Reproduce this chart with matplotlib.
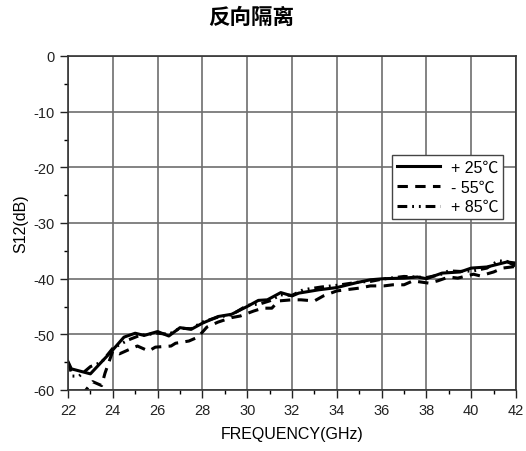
import matplotlib
matplotlib.use('Agg')
import matplotlib.pyplot as plt
from matplotlib.ticker import MultipleLocator

plt.rcParams['font.family'] = ['Liberation Sans', 'Noto Sans CJK SC', 'DejaVu Sans']

# +25 C (solid)
f25 = [22.0, 22.15, 23.0, 24.0, 24.5, 25.0, 25.4, 26.0, 26.5, 27.0, 27.5, 28.0, 28.7, 29.3,
       30.0, 30.5, 30.9, 31.5, 32.0, 32.3, 33.2, 34.0, 34.9, 35.5, 36.1, 37.0, 37.6, 38.0,
       38.7, 39.5, 40.0, 40.7, 41.6, 42.0]
s25 = [-54.9, -56.2, -57.1, -52.8, -50.5, -49.8, -50.2, -49.5, -50.3, -48.8, -49.1, -48.0, -46.8, -46.4,
       -45.0, -43.9, -43.8, -42.5, -43.1, -42.6, -42.0, -41.6, -40.7, -40.2, -40.0, -39.9, -39.7, -40.0,
       -39.0, -38.8, -38.1, -37.9, -37.0, -37.2]

# -55 C (dashed)
f55 = [22.6, 23.0, 23.1, 23.5, 23.65, 24.0, 24.3, 24.8, 25.1, 25.6, 25.9, 26.6, 26.8, 27.4, 27.8,
       28.2, 28.7, 29.3, 29.7, 30.3, 30.7, 31.1, 31.4, 32.0, 32.4, 33.0, 33.4, 34.0, 34.4, 35.0,
       35.5, 36.1, 36.5, 37.0, 37.4, 38.1, 38.5, 39.0, 39.4, 40.1, 40.4, 41.0, 41.4, 42.0]
s55 = [-61.0, -59.0, -58.5, -59.2, -57.0, -53.0, -53.5, -52.6, -52.1, -53.0, -52.3, -52.1, -51.6, -51.2, -50.5,
       -48.7, -47.8, -47.0, -46.7, -45.8, -45.3, -45.3, -44.0, -43.8, -43.8, -44.0, -43.1, -42.2, -42.0, -41.7,
       -41.3, -41.3, -41.1, -41.1, -40.4, -40.8, -40.4, -39.7, -39.9, -39.2, -39.5, -38.8, -38.1, -37.8]

# +85 C (dash-dot-dot)
f85 = [22.0, 22.2, 22.5, 23.0, 23.5, 24.0, 24.7, 25.2, 26.0, 26.5, 27.0, 27.5, 28.0, 28.7, 29.3,
       30.0, 30.6, 31.0, 31.5, 32.0, 32.5, 33.3, 34.0, 35.0, 35.5, 36.0, 37.0, 38.0, 38.6, 39.0,
       39.5, 40.1, 40.7, 41.2, 41.6, 42.0]
s85 = [-55.0, -57.5, -57.5, -55.8, -55.0, -52.5, -51.0, -50.2, -49.8, -50.0, -48.9, -49.0, -47.8, -46.9, -46.5,
       -44.8, -44.5, -44.0, -42.9, -43.0, -42.0, -41.5, -41.2, -40.6, -40.5, -40.1, -39.6, -39.8, -39.3, -38.6,
       -38.7, -38.6, -38.1, -36.8, -36.9, -37.8]

labels = ['+ 25\u2103', '- 55\u2103', '+ 85\u2103']

fig = plt.figure(figsize=(5.26, 4.52), dpi=100)
ax = fig.add_axes([68 / 526, 61 / 452, 448 / 526, 334 / 452])

ax.plot(f25, s25, color='black', lw=2.2, linestyle='-', label=labels[0])
ax.plot(f55, s55, color='black', lw=2.2, linestyle=(0, (3.4, 2.4)), label=labels[1])
ax.plot(f85, s85, color='black', lw=2.2, linestyle=(0, (3.2, 1.6, 0.6, 1.6, 0.6, 1.6)), label=labels[2])

ax.set_xlim(22, 42)
ax.set_ylim(-60, 0)
ax.xaxis.set_major_locator(MultipleLocator(2))
ax.xaxis.set_minor_locator(MultipleLocator(1))
ax.yaxis.set_major_locator(MultipleLocator(10))
ax.yaxis.set_minor_locator(MultipleLocator(5))
ax.set_yticklabels([str(int(v)) for v in ax.get_yticks()])
ax.grid(True, which='major', color='#6e6e6e', lw=1.2)
ax.tick_params(which='major', direction='out', length=6, width=1, labelsize=10.5, colors='#222222')
ax.tick_params(which='minor', direction='out', length=3, width=1)
for sp in ax.spines.values():
    sp.set_color('#333333')
    sp.set_linewidth(1.2)

ax.set_xlabel('FREQUENCY(GHz)', fontsize=11.5, labelpad=6)
ax.set_ylabel('S12(dB)', fontsize=11.5, labelpad=4)
fig.text(0.478, 0.962, '反向隔离', ha='center', va='center', fontsize=15.5, fontweight='bold',
         family=['Noto Sans CJK SC', 'DejaVu Sans'])

leg = ax.legend(loc='upper left', bbox_to_anchor=(0.723, 0.704), fontsize=11.5, fancybox=False,
                framealpha=1, edgecolor='#444444', handlelength=2.7, borderpad=0.3, labelspacing=0.3,
                handletextpad=0.7, borderaxespad=0)
leg.get_frame().set_linewidth(1.0)

fig.savefig('out.png', dpi=100)
